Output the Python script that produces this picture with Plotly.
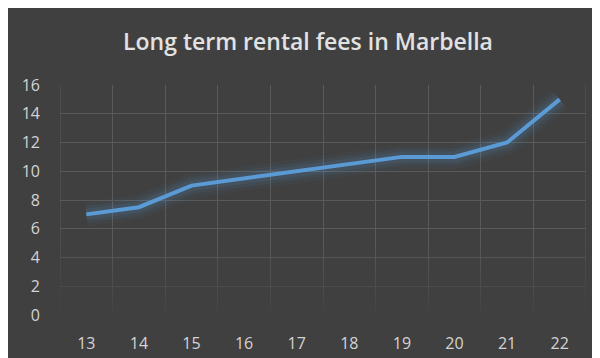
import plotly.graph_objects as go

years = [13, 14, 15, 16, 17, 18, 19, 20, 21, 22]
fees = [7, 7.5, 9, 9.5, 10, 10.5, 11, 11, 12, 15]
y_ticks = [0, 2, 4, 6, 8, 10, 12, 14, 16]
title = "Long term rental fees in Marbella"

BG = "#404040"
GRID = "#5a5a5a"
LINE = "#5b9bd5"
TXT = "#d4d4d4"

x_lo, x_hi = years[0] - 0.5, years[-1] + 0.5
y_lo, y_hi = y_ticks[0], y_ticks[-1]
fade_top = 5

fig = go.Figure()
# fading of the grid toward the bottom of the plot
fig.add_trace(go.Scatter(
    x=[x_lo, x_hi, x_hi, x_lo, x_lo], y=[y_lo, y_lo, fade_top, fade_top, y_lo],
    mode="none", fill="toself",
    fillgradient=dict(type="vertical", start=y_lo, stop=fade_top,
                      colorscale=[[0, "rgba(64,64,64,0.92)"], [1, "rgba(64,64,64,0)"]]),
    hoverinfo="skip", showlegend=False))
# soft glow under the line
for w, a in [(24, 0.05), (17, 0.07), (11, 0.11)]:
    fig.add_trace(go.Scatter(x=years, y=fees, mode="lines",
                             line=dict(color=f"rgba(91,155,213,{a})", width=w),
                             hoverinfo="skip", showlegend=False))
fig.add_trace(go.Scatter(x=years, y=fees, mode="lines",
                         line=dict(color=LINE, width=4), showlegend=False))

fig.update_layout(
    width=600, height=358,
    paper_bgcolor=BG, plot_bgcolor=BG,
    margin=dict(l=52, r=22, t=77, b=51),
    title=dict(text=title, x=0.5, xanchor="center", y=0.905, yanchor="middle",
               font=dict(family="Open Sans", size=23, color="#e2e2e2", weight=600)),
    font=dict(family="Open Sans", color=TXT, size=16),
)
fig.update_xaxes(
    range=[x_lo, x_hi], tickvals=years, ticktext=[str(v) for v in years],
    showgrid=False, zeroline=False, showline=False, ticks="",
    minor=dict(tick0=x_lo, dtick=1, showgrid=True, gridcolor=GRID, gridwidth=1),
    tickfont=dict(size=16, color=TXT), ticklabelstandoff=17,
)
fig.update_yaxes(
    range=[y_lo, y_hi], tickvals=y_ticks, showgrid=True, gridcolor=GRID, gridwidth=1,
    zeroline=False, showline=False, ticks="",
    tickfont=dict(size=16, color=TXT), ticklabelstandoff=19,
)
for xv in (x_lo, x_hi):
    fig.add_shape(type="line", x0=xv, x1=xv, y0=y_lo, y1=y_hi,
                  line=dict(color=GRID, width=1), layer="below")

fig.write_html("out.html")
